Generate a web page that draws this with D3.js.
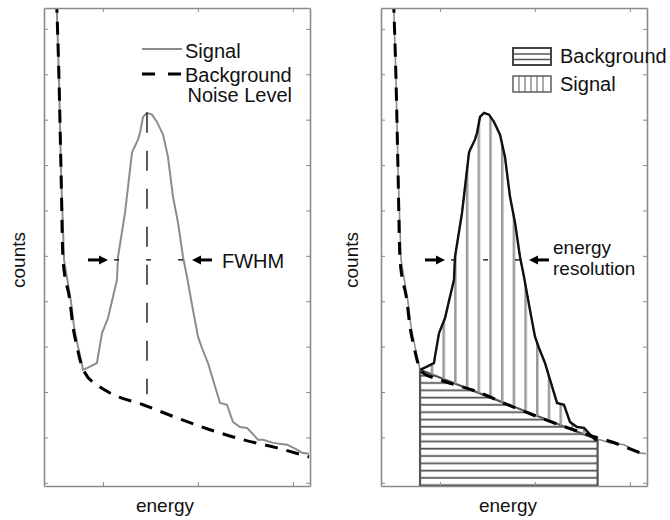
<!DOCTYPE html>
<html>
<head>
<meta charset="utf-8">
<script src="https://cdn.jsdelivr.net/npm/d3@7"></script>
<style>
  body { margin: 0; background: #fff; }
  text { font-family: "Liberation Sans", Arial, sans-serif; fill: #111; }
</style>
</head>
<body>
<div id="chart"></div>
<script>
// tick positions (no labels shown)
const xTicks = [100, 200, 300];
const yTicks = [0, 100, 200, 300, 400, 500, 600, 700, 800, 900, 1000];

// measured spectrum
const sigEnergy = [51.2, 53.8, 55.9, 59.1, 66.4, 69.6, 73.8, 76.9, 79.1, 86.4, 93.8, 94.8, 99.1, 105.4, 110.6, 114.8,
  115.9, 123.3, 130.6, 131.7, 136.9, 139.1, 142.2, 146.4, 151.7, 156.9, 163.3, 168.5, 173.8, 179.1, 184.3, 188.5,
  194.8, 200.1, 204.3, 210.6, 223.3, 230.6, 236.9, 244.3, 251.7, 263.3, 268.5, 279.1, 293.8, 304.3, 309.6, 316.9];
const sigCounts = [1064, 888, 689, 491, 399, 344, 300, 271, 249, 256, 264, 278, 330, 363, 410, 447,
  498, 595, 727, 733, 756, 771, 806, 815, 811, 795, 767, 718, 630, 573, 498, 454,
  381, 322, 297, 264, 176, 172, 134, 123, 121, 95, 95, 88, 84, 73, 66, 64];

// background noise level (left panel fit)
const bgEnergy = [51.2, 53.8, 55.9, 58.0, 65.4, 68.5, 72.7, 75.9, 81.2, 93.8, 107.5, 142.2, 178.0, 212.7, 247.5, 283.3, 316.9];
const bgCounts = [1064, 888, 689, 491, 399, 344, 300, 271, 242, 216, 198, 172, 143, 117, 95, 77, 57];

// background level (right panel, linear under the peak)
const bg2Energy = [51.2, 53.8, 55.9, 58.0, 65.4, 68.5, 72.7, 75.9, 81.2, 100.1, 140.1, 173.8, 208.5, 247.5, 266.4, 281.2, 294.8, 315.9];
const bg2Counts = [1064, 888, 689, 491, 399, 344, 300, 271, 244, 227, 200, 170, 141, 112, 99, 90, 79, 62];

// annotations
const peakEnergy = 146.4, peakCounts = 815, peakFoot = 195;
const halfMax = 491;
const arrowLeft = [84.3, 105.4], arrowRight = [214.8, 193.8];
const roiStart = 79.1, roiEnd = 266;

const svg = d3.select("#chart").append("svg")
  .attr("width", 670).attr("height", 520);

const x = d3.scaleLinear().domain([38, 318]).range([0, 266]);
const y = d3.scaleLinear().domain([-7, 1046]).range([486, 8]);

const sig = sigEnergy.map((e, i) => [e, sigCounts[i]]);
const bg = bgEnergy.map((e, i) => [e, bgCounts[i]]);
const bg2 = bg2Energy.map((e, i) => [e, bg2Counts[i]]);

function interp(pts, e) {
  for (let i = 1; i < pts.length; i++) {
    if (pts[i][0] >= e) {
      let t = (e - pts[i - 1][0]) / (pts[i][0] - pts[i - 1][0]);
      return pts[i - 1][1] + t * (pts[i][1] - pts[i - 1][1]);
    }
  }
  return pts[pts.length - 1][1];
}

const line = d3.line().x(d => x(d[0])).y(d => y(d[1]));
const bgLine = d3.line().x(d => x(d[0])).y(d => y(d[1])).curve(d3.curveMonotoneX);

let defs = svg.append("defs");
defs.append("clipPath").attr("id", "plotclip")
  .append("rect").attr("x", 0).attr("y", 8).attr("width", 266).attr("height", 478);

let hp = defs.append("pattern").attr("id", "hatchH").attr("patternUnits", "userSpaceOnUse")
  .attr("width", 20).attr("height", 7.3);
hp.append("line").attr("x1", 0).attr("x2", 20).attr("y1", 3.4).attr("y2", 3.4)
  .attr("stroke", "#555").attr("stroke-width", 1.8);

let vp = defs.append("pattern").attr("id", "hatchV").attr("patternUnits", "userSpaceOnUse")
  .attr("width", 11.7).attr("height", 20);
vp.append("line").attr("x1", 4.2).attr("x2", 4.2).attr("y1", 0).attr("y2", 20)
  .attr("stroke", "#9a9a9a").attr("stroke-width", 2.5);

function arrow(g, from, to, level) {
  let x0 = x(from), x1 = x(to), yy = y(level), dir = Math.sign(x1 - x0);
  g.append("line").attr("x1", x0).attr("x2", x1 - dir * 6).attr("y1", yy).attr("y2", yy)
    .attr("stroke", "#000").attr("stroke-width", 3);
  g.append("path").attr("d", `M${x1},${yy}L${x1 - dir * 9},${yy - 4.5}L${x1 - dir * 9},${yy + 4.5}Z`)
    .attr("fill", "#000");
}

function axes(g) {
  let ax = g.append("g").attr("class", "axes");
  ax.append("g").attr("transform", "translate(0,486)")
    .call(d3.axisBottom(x).tickValues(xTicks).tickSize(-4).tickSizeOuter(0).tickFormat(""));
  ax.append("g").attr("transform", "translate(0,8)")
    .call(d3.axisTop(x).tickValues(xTicks).tickSize(-4).tickSizeOuter(0).tickFormat(""));
  ax.append("g").attr("transform", "translate(0,0)")
    .call(d3.axisLeft(y).tickValues(yTicks).tickSize(-4).tickSizeOuter(0).tickFormat(""));
  ax.append("g").attr("transform", "translate(266,0)")
    .call(d3.axisRight(y).tickValues(yTicks).tickSize(-4).tickSizeOuter(0).tickFormat(""));
  ax.selectAll("path.domain").attr("stroke", "#8a8a8a").attr("stroke-width", 1.6);
  ax.selectAll(".tick line").attr("stroke", "#8a8a8a").attr("stroke-width", 1);
}

// ---------- left panel ----------
let left = svg.append("g").attr("transform", "translate(44,0)");
let lc = left.append("g").attr("clip-path", "url(#plotclip)");

lc.append("path").datum(sig).attr("d", line)
  .attr("fill", "none").attr("stroke", "#8c8c8c").attr("stroke-width", 2);
lc.append("path").datum(bg).attr("d", bgLine)
  .attr("fill", "none").attr("stroke", "#000").attr("stroke-width", 3).attr("stroke-dasharray", "13,9");

// peak marker and FWHM
lc.append("line").attr("x1", x(peakEnergy)).attr("x2", x(peakEnergy))
  .attr("y1", y(peakCounts)).attr("y2", y(peakFoot))
  .attr("stroke", "#000").attr("stroke-width", 1.3).attr("stroke-dasharray", "20,18");
lc.append("line").attr("x1", x(arrowLeft[1])).attr("x2", x(arrowRight[1]))
  .attr("y1", y(halfMax)).attr("y2", y(halfMax))
  .attr("stroke", "#000").attr("stroke-width", 1.3).attr("stroke-dasharray", "5,27").attr("stroke-dashoffset", -6);
arrow(left, arrowLeft[0], arrowLeft[1], halfMax);
arrow(left, arrowRight[0], arrowRight[1], halfMax);
axes(left);

svg.append("text").attr("x", 222).attr("y", 268).attr("font-size", 20).text("FWHM");

// left legend
svg.append("line").attr("x1", 142).attr("x2", 182).attr("y1", 49).attr("y2", 49)
  .attr("stroke", "#8c8c8c").attr("stroke-width", 2);
svg.append("text").attr("x", 185).attr("y", 58).attr("font-size", 20).text("Signal");
svg.append("line").attr("x1", 142).attr("x2", 182).attr("y1", 74).attr("y2", 74)
  .attr("stroke", "#000").attr("stroke-width", 3).attr("stroke-dasharray", "13,13");
svg.append("text").attr("x", 185).attr("y", 82).attr("font-size", 20).text("Background");
svg.append("text").attr("x", 292).attr("y", 102).attr("font-size", 20).attr("text-anchor", "end").text("Noise Level");

svg.append("text").attr("transform", "translate(25,260) rotate(-90)").attr("text-anchor", "middle")
  .attr("font-size", 19).text("counts");
svg.append("text").attr("x", 165).attr("y", 512).attr("text-anchor", "middle")
  .attr("font-size", 19).text("energy");

// ---------- right panel ----------
let right = svg.append("g").attr("transform", "translate(381,0)");
let rc = right.append("g").attr("clip-path", "url(#plotclip)");

let b0 = interp(sig, roiStart), b1 = interp(sig, roiEnd);
let roiPts = [[roiStart, b0]].concat(sig.filter(d => d[0] > roiStart && d[0] < roiEnd), [[roiEnd, b1]]);
let trap = [[roiStart, b0], [roiEnd, b1], [roiEnd, y.domain()[0]], [roiStart, y.domain()[0]]];

rc.append("path").datum(trap).attr("d", d => line(d) + "Z")
  .attr("fill", "url(#hatchH)").attr("stroke", "#555").attr("stroke-width", 2.2);
rc.append("path").datum(roiPts).attr("d", d => line(d) + "Z")
  .attr("fill", "url(#hatchV)").attr("stroke", "none");

rc.append("line").attr("x1", x(arrowLeft[1])).attr("x2", x(arrowRight[1]))
  .attr("y1", y(halfMax)).attr("y2", y(halfMax))
  .attr("stroke", "#000").attr("stroke-width", 1.3).attr("stroke-dasharray", "5,27").attr("stroke-dashoffset", -6);

rc.append("path").datum(sig).attr("d", line)
  .attr("fill", "none").attr("stroke", "#8c8c8c").attr("stroke-width", 1.6);
rc.append("path").datum(roiPts).attr("d", line)
  .attr("fill", "none").attr("stroke", "#111").attr("stroke-width", 2.4);
rc.append("path").datum(bg2).attr("d", bgLine)
  .attr("fill", "none").attr("stroke", "#000").attr("stroke-width", 3).attr("stroke-dasharray", "13,9");

arrow(right, arrowLeft[0], arrowLeft[1], halfMax);
arrow(right, arrowRight[0], arrowRight[1], halfMax);
axes(right);

svg.append("text").attr("x", 553).attr("y", 254).attr("font-size", 19).text("energy");
svg.append("text").attr("x", 553).attr("y", 275).attr("font-size", 19).text("resolution");

// right legend
svg.append("rect").attr("x", 513).attr("y", 48).attr("width", 38).attr("height", 17)
  .attr("fill", "#fff").attr("stroke", "#444").attr("stroke-width", 2);
[54, 59.5].forEach(v => svg.append("line").attr("x1", 513).attr("x2", 551).attr("y1", v).attr("y2", v)
  .attr("stroke", "#555").attr("stroke-width", 1.5));
svg.append("text").attr("x", 560).attr("y", 63).attr("font-size", 20).text("Background");

svg.append("rect").attr("x", 513).attr("y", 76).attr("width", 38).attr("height", 16)
  .attr("fill", "#fff").attr("stroke", "#444").attr("stroke-width", 1.3);
[519, 525, 531, 537, 543].forEach(v => svg.append("line").attr("x1", v).attr("x2", v).attr("y1", 76).attr("y2", 92)
  .attr("stroke", "#555").attr("stroke-width", 1));
svg.append("text").attr("x", 560).attr("y", 91).attr("font-size", 20).text("Signal");

svg.append("text").attr("transform", "translate(358,260) rotate(-90)").attr("text-anchor", "middle")
  .attr("font-size", 19).text("counts");
svg.append("text").attr("x", 508).attr("y", 512).attr("text-anchor", "middle")
  .attr("font-size", 19).text("energy");
</script>
</body>
</html>
